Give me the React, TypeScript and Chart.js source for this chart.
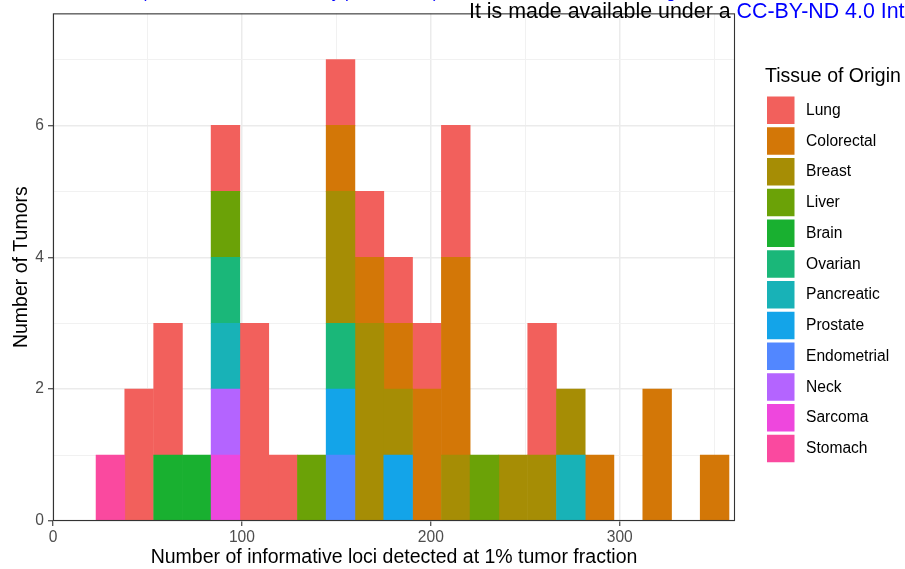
import React, { useEffect, useRef } from "react";
import { Chart, registerables } from "chart.js";

Chart.register(...registerables);

const FONT = '"Liberation Sans", Arial, Helvetica, sans-serif';

// Histogram bin centres (x, number of informative loci)
const binCenters = [30.4, 45.6, 60.9, 76.1, 91.3, 106.6, 121.8, 137.0, 152.2, 167.5, 182.7, 197.9, 213.2, 228.4, 243.6, 258.9, 274.1, 289.3, 304.5, 319.8, 335.0, 350.2];

// Legend order (top of stack first)
const tissues = ["Lung", "Colorectal", "Breast", "Liver", "Brain", "Ovarian", "Pancreatic", "Prostate", "Endometrial", "Neck", "Sarcoma", "Stomach"];
const tissueColors = ["#F2605C", "#D37707", "#A68D05", "#6BA207", "#19B030", "#1AB779", "#18B2B7", "#13A4E9", "#5287FF", "#B464FF", "#EE47DD", "#FA499F"];

// Counts per bin for each tissue
const lung =        [0, 2, 2, 0, 1, 3, 1, 0, 1, 1, 1, 1, 2, 0, 0, 2, 0, 0, 0, 0, 0, 0];
const colorectal =  [0, 0, 0, 0, 0, 0, 0, 0, 1, 1, 1, 2, 3, 0, 0, 0, 0, 1, 0, 2, 0, 1];
const breast =      [0, 0, 0, 0, 0, 0, 0, 0, 2, 3, 1, 0, 1, 0, 1, 1, 1, 0, 0, 0, 0, 0];
const liver =       [0, 0, 0, 0, 1, 0, 0, 1, 0, 0, 0, 0, 0, 1, 0, 0, 0, 0, 0, 0, 0, 0];
const brain =       [0, 0, 1, 1, 0, 0, 0, 0, 0, 0, 0, 0, 0, 0, 0, 0, 0, 0, 0, 0, 0, 0];
const ovarian =     [0, 0, 0, 0, 1, 0, 0, 0, 1, 0, 0, 0, 0, 0, 0, 0, 0, 0, 0, 0, 0, 0];
const pancreatic =  [0, 0, 0, 0, 1, 0, 0, 0, 0, 0, 0, 0, 0, 0, 0, 0, 1, 0, 0, 0, 0, 0];
const prostate =    [0, 0, 0, 0, 0, 0, 0, 0, 1, 0, 1, 0, 0, 0, 0, 0, 0, 0, 0, 0, 0, 0];
const endometrial = [0, 0, 0, 0, 0, 0, 0, 0, 1, 0, 0, 0, 0, 0, 0, 0, 0, 0, 0, 0, 0, 0];
const neck =        [0, 0, 0, 0, 1, 0, 0, 0, 0, 0, 0, 0, 0, 0, 0, 0, 0, 0, 0, 0, 0, 0];
const sarcoma =     [0, 0, 0, 0, 1, 0, 0, 0, 0, 0, 0, 0, 0, 0, 0, 0, 0, 0, 0, 0, 0, 0];
const stomach =     [1, 0, 0, 0, 0, 0, 0, 0, 0, 0, 0, 0, 0, 0, 0, 0, 0, 0, 0, 0, 0, 0];
const tissueCounts = [lung, colorectal, breast, liver, brain, ovarian, pancreatic, prostate, endometrial, neck, sarcoma, stomach];

// Axes
const xGridValues = [0, 50, 100, 150, 200, 250, 300, 350];
const xTickLabels = [0, 100, 200, 300];
const yGridValues = [0, 1, 2, 3, 4, 5, 6, 7];
const yTickLabels = [0, 2, 4, 6];
const xMin = 0;
const xMax = 361;
const yMin = 0;
const yMax = 7.7;

const xTitle = "Number of informative loci detected at 1% tumor fraction";
const yTitle = "Number of Tumors";
const legendTitle = "Tissue of Origin";

const ggLegendPlugin = {
  id: "ggLegend",
  afterDraw(chart: any) {
    const ctx = chart.ctx;
    const { left, top, right, bottom } = chart.chartArea;
    ctx.save();
    // panel border
    ctx.strokeStyle = "#333333";
    ctx.lineWidth = 1.1;
    ctx.strokeRect(left + 0.5, top + 0.5, right - left - 1, bottom - top - 1);
    // legend
    const lx = right + 30;
    ctx.textAlign = "left";
    ctx.textBaseline = "middle";
    ctx.fillStyle = "#000000";
    ctx.font = `19.5px ${FONT}`;
    ctx.fillText(legendTitle, lx, 77);
    ctx.font = `15.6px ${FONT}`;
    tissues.forEach((name, i) => {
      const y = 96.5 + i * 30.75;
      ctx.fillStyle = tissueColors[i];
      ctx.fillRect(lx + 2, y, 27.5, 27.5);
      ctx.fillStyle = "#000000";
      ctx.fillText(name, lx + 41, y + 14);
    });
    ctx.restore();
  },
};

export default function App() {
  const canvasRef = useRef<HTMLCanvasElement | null>(null);

  useEffect(() => {
    const canvas = canvasRef.current;
    if (!canvas) return;

    const datasets = tissues
      .map((name, i) => ({
        label: name,
        data: binCenters
          .map((x, j) => ({ x, y: tissueCounts[i][j] }))
          .filter((p) => p.y > 0),
        backgroundColor: tissueColors[i],
        borderWidth: 0,
        barPercentage: 1,
        categoryPercentage: 1,
      }))
      .reverse();

    const isMajorX = (v: number) => xTickLabels.includes(v);
    const isMajorY = (v: number) => yTickLabels.includes(v);

    const chart = new Chart(canvas, {
      type: "bar",
      data: { datasets },
      plugins: [ggLegendPlugin],
      options: {
        animation: false,
        responsive: false,
        maintainAspectRatio: false,
        layout: { padding: { top: 10, right: 170, left: 0, bottom: 0 } },
        plugins: {
          legend: { display: false },
          tooltip: { enabled: false },
        },
        scales: {
          x: {
            type: "linear",
            min: xMin,
            max: xMax,
            stacked: true,
            offset: false,
            afterBuildTicks: (s: any) => {
              s.ticks = xGridValues.map((v) => ({ value: v }));
            },
            afterFit: (s: any) => {
              s.height = 48;
            },
            border: { display: false },
            grid: {
              offset: false,
              color: (c: any) => (c.tick && isMajorX(c.tick.value) ? "#EBEBEB" : "#F1F1F1"),
              lineWidth: (c: any) => (c.tick && isMajorX(c.tick.value) ? 1.5 : 1),
              tickColor: (c: any) => (c.tick && isMajorX(c.tick.value) ? "#333333" : "rgba(0,0,0,0)"),
              tickLength: 5,
              tickWidth: 1.1,
            },
            ticks: {
              autoSkip: false,
              maxRotation: 0,
              color: "#4D4D4D",
              padding: 2,
              font: { family: FONT, size: 15.6 },
              callback: (v: any) => (isMajorX(Number(v)) ? String(v) : ""),
            },
            title: {
              display: true,
              text: xTitle,
              color: "#000000",
              font: { family: FONT, size: 19.5 },
              padding: { top: 0, bottom: 0 },
            },
          },
          y: {
            type: "linear",
            min: yMin,
            max: yMax,
            stacked: true,
            afterBuildTicks: (s: any) => {
              s.ticks = yGridValues.map((v) => ({ value: v }));
            },
            afterFit: (s: any) => {
              s.width = 53;
            },
            border: { display: false },
            grid: {
              offset: false,
              color: (c: any) => (c.tick && isMajorY(c.tick.value) ? "#EBEBEB" : "#F1F1F1"),
              lineWidth: (c: any) => (c.tick && isMajorY(c.tick.value) ? 1.5 : 1),
              tickColor: (c: any) => (c.tick && isMajorY(c.tick.value) ? "#333333" : "rgba(0,0,0,0)"),
              tickLength: 5,
              tickWidth: 1.1,
            },
            ticks: {
              autoSkip: false,
              color: "#4D4D4D",
              padding: 4,
              font: { family: FONT, size: 15.6 },
              callback: (v: any) => (isMajorY(Number(v)) ? String(v) : ""),
            },
            title: {
              display: true,
              text: yTitle,
              color: "#000000",
              font: { family: FONT, size: 19.5 },
              padding: { top: 10, bottom: 0 },
            },
          },
        },
      } as any,
    });

    return () => chart.destroy();
  }, []);

  return (
    <div
      style={{
        position: "fixed",
        left: 0,
        top: 0,
        width: 905,
        height: 569,
        overflow: "hidden",
        background: "#ffffff",
      }}
    >
      <canvas ref={canvasRef} width={905} height={569} style={{ width: 905, height: 569, display: "block" }} />
      <div
        style={{
          position: "absolute",
          left: 141,
          top: -16,
          font: `17px ${FONT}`,
          lineHeight: "17px",
          color: "#0000FF",
          whiteSpace: "nowrap",
        }}
      >
        (which was not certified by peer review) is the author/funder, who has granted medRxiv a license to display the preprint in perpetuity.
      </div>
      <div
        style={{
          position: "absolute",
          left: 469,
          top: 1.3,
          font: `21.4px ${FONT}`,
          lineHeight: "21.4px",
          color: "#000000",
          whiteSpace: "nowrap",
        }}
      >
        It is made available under a <span style={{ color: "#0000FF" }}>CC-BY-ND 4.0 International license</span>.
      </div>
    </div>
  );
}
